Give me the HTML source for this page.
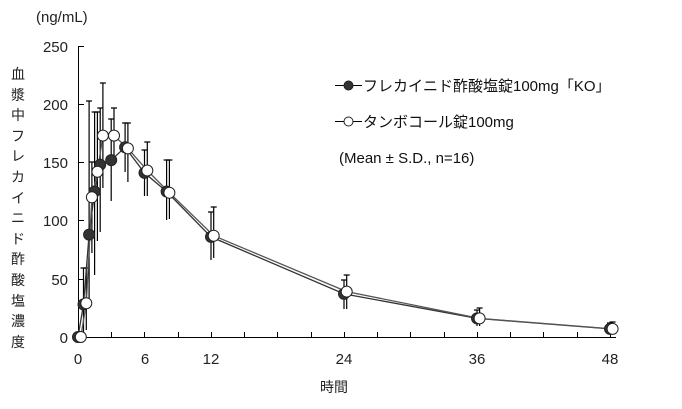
<!DOCTYPE html>
<html><head><meta charset="utf-8"><style>
body{margin:0;background:#fff;}
svg text{font-family:"Liberation Sans","Noto Sans CJK JP",sans-serif;}
</style></head><body>
<svg width="682" height="404" xmlns="http://www.w3.org/2000/svg">
<rect width="682" height="404" fill="#fff"/>
<g stroke="#000" stroke-width="1" fill="none">
<line x1="78.5" y1="46" x2="78.5" y2="337"/>
<line x1="78" y1="337.5" x2="616" y2="337.5"/>
<line x1="78" y1="46.5" x2="84" y2="46.5"/><line x1="78" y1="104.5" x2="84" y2="104.5"/><line x1="78" y1="162.5" x2="84" y2="162.5"/><line x1="78" y1="220.5" x2="84" y2="220.5"/><line x1="78" y1="279.5" x2="84" y2="279.5"/>
<line x1="111.5" y1="337" x2="111.5" y2="332"/><line x1="144.5" y1="337" x2="144.5" y2="332"/><line x1="178.5" y1="337" x2="178.5" y2="332"/><line x1="211.5" y1="337" x2="211.5" y2="332"/><line x1="244.5" y1="337" x2="244.5" y2="332"/><line x1="277.5" y1="337" x2="277.5" y2="332"/><line x1="311.5" y1="337" x2="311.5" y2="332"/><line x1="344.5" y1="337" x2="344.5" y2="332"/><line x1="377.5" y1="337" x2="377.5" y2="332"/><line x1="410.5" y1="337" x2="410.5" y2="332"/><line x1="444.5" y1="337" x2="444.5" y2="332"/><line x1="477.5" y1="337" x2="477.5" y2="332"/><line x1="510.5" y1="337" x2="510.5" y2="332"/><line x1="543.5" y1="337" x2="543.5" y2="332"/><line x1="577.5" y1="337" x2="577.5" y2="332"/><line x1="610.5" y1="337" x2="610.5" y2="332"/>
</g>
<g font-size="15" fill="#222" text-anchor="end">
<text x="68" y="52">250</text><text x="68" y="110">200</text><text x="68" y="168">150</text><text x="68" y="226">100</text><text x="68" y="285">50</text><text x="68" y="343">0</text>
</g>
<g font-size="15" fill="#222" text-anchor="middle">
<text x="78" y="364">0</text><text x="145" y="364">6</text><text x="211" y="364">12</text><text x="344" y="364">24</text><text x="477" y="364">36</text><text x="610" y="364">48</text>
<text x="334" y="392" font-size="14">時間</text>
</g>
<text x="36" y="22" font-size="15" fill="#222">(ng/mL)</text>
<g font-size="14" fill="#222" text-anchor="middle">
<text x="18" y="79">血</text><text x="18" y="100">漿</text><text x="18" y="120">中</text><text x="18" y="141">フ</text><text x="18" y="161">レ</text><text x="18" y="182">カ</text><text x="18" y="203">イ</text><text x="18" y="223">ニ</text><text x="18" y="244">ド</text><text x="18" y="264">酢</text><text x="18" y="285">酸</text><text x="18" y="306">塩</text><text x="18" y="326">濃</text><text x="18" y="347">度</text>
</g>
<g stroke="#000" stroke-width="1.2">
<path d="M83.5 268V340M80.5 268h6M89.1 101V300M86 101h6M94.6 112V275M91.6 112h6M100.2 108V232M97.2 108h6M111.2 119V201M108.2 119h6M125.1 123V172M122.1 123h6M144.5 150V196M141.5 150h6M166.6 160V220M163.6 160h6M211 212V260M208 212h6M344 280V309M341 280h6M477 310V326M474 310h6M610 323V333M607 323h6"/>
<path d="M86.3 268V330M83.3 268h6M91.9 162V253M88.9 162h6M97.4 112V241M94.4 112h6M102.9 83V188M99.9 83h6M114 108V163M111 108h6M127.9 123V182M124.9 123h6M147.3 142V196M144.3 142h6M169.4 160V219M166.4 160h6M213.7 207V258M210.7 207h6M346.7 275V309M343.7 275h6M479.6 308V326M476.6 308h6M612.6 322V333M609.6 322h6"/>
</g>
<polyline fill="none" stroke="#333" stroke-width="1.3" points="78,337 83.5,304.4 89.1,234.6 94.6,191.5 100.2,164.7 111.2,160.1 125.1,147.3 144.5,172.9 166.6,191.5 211,236.9 344,293.9 477,318.4 610,328.9"/>
<polyline fill="none" stroke="#555" stroke-width="1.3" points="80.8,337 86.3,303.2 91.9,197.3 97.4,171.7 102.9,135.6 114,135.6 127.9,148.4 147.3,170.5 169.4,192.7 213.7,235.7 346.7,291.6 479.6,318.4 612.6,328.9"/>
<g fill="#333" stroke="#222" stroke-width="1">
<circle cx="78" cy="337" r="5.5"/><circle cx="83.5" cy="304.4" r="5.5"/><circle cx="89.1" cy="234.6" r="5.5"/><circle cx="94.6" cy="191.5" r="5.5"/><circle cx="100.2" cy="164.7" r="5.5"/><circle cx="111.2" cy="160.1" r="5.5"/><circle cx="125.1" cy="147.3" r="5.5"/><circle cx="144.5" cy="172.9" r="5.5"/><circle cx="166.6" cy="191.5" r="5.5"/><circle cx="211" cy="236.9" r="5.5"/><circle cx="344" cy="293.9" r="5.5"/><circle cx="477" cy="318.4" r="5.5"/><circle cx="610" cy="328.9" r="5.5"/>
</g>
<g fill="#fff" stroke="#222" stroke-width="1">
<circle cx="80.8" cy="337" r="5.5"/><circle cx="86.3" cy="303.2" r="5.5"/><circle cx="91.9" cy="197.3" r="5.5"/><circle cx="97.4" cy="171.7" r="5.5"/><circle cx="102.9" cy="135.6" r="5.5"/><circle cx="114" cy="135.6" r="5.5"/><circle cx="127.9" cy="148.4" r="5.5"/><circle cx="147.3" cy="170.5" r="5.5"/><circle cx="169.4" cy="192.7" r="5.5"/><circle cx="213.7" cy="235.7" r="5.5"/><circle cx="346.7" cy="291.6" r="5.5"/><circle cx="479.6" cy="318.4" r="5.5"/><circle cx="612.6" cy="328.9" r="5.5"/>
</g>
<g stroke="#000" stroke-width="1">
<line x1="335" y1="85.5" x2="362" y2="85.5"/><line x1="335" y1="121.5" x2="362" y2="121.5"/>
</g>
<circle cx="348.5" cy="85.5" r="4.5" fill="#333" stroke="#222"/>
<circle cx="348.5" cy="121.5" r="4.5" fill="#fff" stroke="#222"/>
<g font-size="15" fill="#111">
<text x="363" y="91">フレカイニド酢酸塩錠100mg「KO」</text>
<text x="363" y="127">タンボコール錠100mg</text>
<text x="339" y="163">(Mean ± S.D., n=16)</text>
</g>
</svg>
</body></html>
